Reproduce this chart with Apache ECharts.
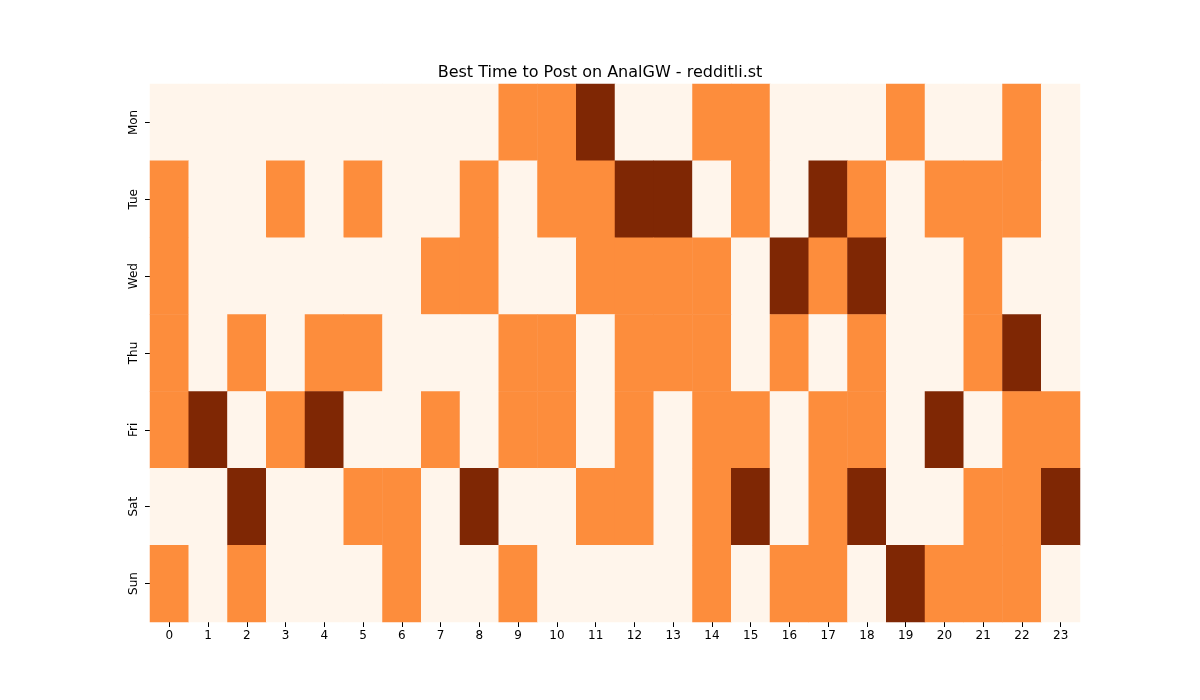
<!DOCTYPE html>
<html><head><meta charset="utf-8">
<script src="https://cdn.jsdelivr.net/npm/echarts@6/dist/echarts.min.js"></script>
<style>html,body{margin:0;background:#fff}#c{width:1200px;height:700px}</style>
</head><body><div id="c"></div>
<script>
const hours = Array.from({length:24},(_,i)=>String(i));
const days = ['Mon','Tue','Wed','Thu','Fri','Sat','Sun'];
const Mon = [0,0,0,0,0,0,0,0,0,1,1,2,0,0,1,1,0,0,0,1,0,0,1,0];
const Tue = [1,0,0,1,0,1,0,0,1,0,1,1,2,2,0,1,0,2,1,0,1,1,1,0];
const Wed = [1,0,0,0,0,0,0,1,1,0,0,1,1,1,1,0,2,1,2,0,0,1,0,0];
const Thu = [1,0,1,0,1,1,0,0,0,1,1,0,1,1,1,0,1,0,1,0,0,1,2,0];
const Fri = [1,2,0,1,2,0,0,1,0,1,1,0,1,0,1,1,0,1,1,0,2,0,1,1];
const Sat = [0,0,2,0,0,1,1,0,2,0,0,1,1,0,1,2,0,1,2,0,0,1,1,2];
const Sun = [1,0,1,0,0,0,1,0,0,1,0,0,0,0,1,0,1,1,0,2,1,1,1,0];
const rows = [Mon,Tue,Wed,Thu,Fri,Sat,Sun];
const data = [];
rows.forEach((r,y)=>r.forEach((v,x)=>data.push([x,y,v])));
const chart = echarts.init(document.getElementById('c'));
chart.setOption({
  animation:false,
  title:{text:'Best Time to Post on AnalGW - redditli.st',left:'center',top:60,textStyle:{fontFamily:'DejaVu Sans',fontSize:16,fontWeight:'normal',color:'#000'}},
  grid:{left:150,right:120,top:84,bottom:78},
  xAxis:{type:'category',data:hours,axisLine:{show:false},axisTick:{show:true,alignWithLabel:true,lineStyle:{color:'#000'}},axisLabel:{color:'#000',fontFamily:'DejaVu Sans',fontSize:12},splitArea:{show:false}},
  yAxis:{type:'category',data:days,inverse:true,axisLine:{show:false},axisTick:{show:true,alignWithLabel:true,lineStyle:{color:'#000'}},axisLabel:{color:'#000',fontFamily:'DejaVu Sans',fontSize:12,rotate:90,align:'center',verticalAlign:'bottom',margin:10}},
  visualMap:{show:false,type:'piecewise',dimension:2,pieces:[{value:0,color:'#fff5eb'},{value:1,color:'#fd8d3c'},{value:2,color:'#7f2704'}]},
  graphic:[{type:'text',left:550,top:337,style:{text:'redditli.st',font:'26px DejaVu Sans',fill:'rgba(128,128,128,0.5)'}}],
  series:[{type:'heatmap',data:data,itemStyle:{borderWidth:0}}]
});
</script></body></html>
